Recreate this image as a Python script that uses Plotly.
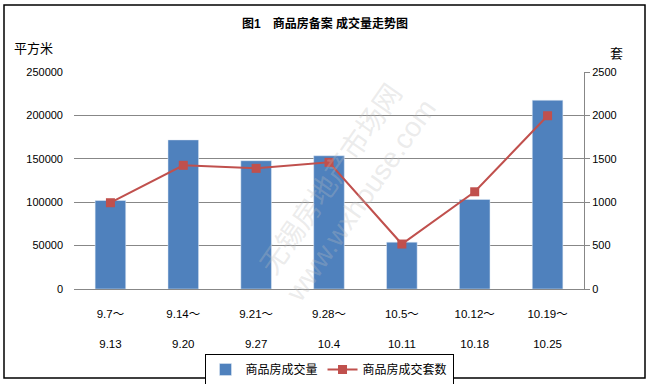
import plotly.graph_objects as go

categories = ["9.7～", "9.14～", "9.21～", "9.28～", "10.5～", "10.12～", "10.19～"]
categories_end = ["9.13", "9.20", "9.27", "10.4", "10.11", "10.18", "10.25"]
area = [102000, 171800, 147800, 153500, 54000, 103200, 217500]
units = [994, 1425, 1390, 1459, 518, 1120, 1996]

ticktext = [f"{a}<br> <br>{b}" for a, b in zip(categories, categories_end)]
xs = list(range(len(categories)))

FONT = "Liberation Sans, Noto Sans CJK SC, sans-serif"

L, R, T, B = 74, 66, 72, 95
PW, PH = 650 - L - R, 384 - T - B


def px(x):
    return (x - L) / PW


def py(y):
    return (384 - B - y) / PH


fig = go.Figure()
fig.add_trace(go.Bar(x=xs, y=area, name="商品房成交量", marker_color="#4F81BD",
                     width=0.42, yaxis="y"))
fig.add_trace(go.Scatter(x=xs, y=units, name="商品房成交套数", mode="lines+markers",
                         line=dict(color="#C0504D", width=2),
                         marker=dict(symbol="square", size=9, color="#C0504D"),
                         yaxis="y2"))

fig.update_layout(
    width=650, height=384,
    margin=dict(l=L, r=R, t=T, b=B, autoexpand=False),
    paper_bgcolor="white", plot_bgcolor="white",
    font=dict(family=FONT, size=11, color="black"),
    showlegend=True,
    legend=dict(orientation="h", x=0.5, xanchor="center", y=py(354), yanchor="top",
                bordercolor="black", borderwidth=1, font=dict(size=12),
                tracegroupgap=0),
    xaxis=dict(tickmode="array", tickvals=xs, ticktext=ticktext, range=[-0.5, 6.5],
               showgrid=False, showline=True, linecolor="#878787", linewidth=1,
               ticks="", tickfont=dict(size=11.5), zeroline=False, automargin=False,
               ticklabelstandoff=14),
    yaxis=dict(range=[0, 250000], dtick=50000, showgrid=True, gridcolor="#878787",
               gridwidth=1, showline=False, ticks="", zeroline=False,
               tickformat="d", tickfont=dict(size=11), ticklabelstandoff=10,
               automargin=False),
    yaxis2=dict(range=[0, 2500], dtick=500, overlaying="y", side="right",
                showgrid=False, showline=True, linecolor="#878787", linewidth=1,
                ticks="outside", ticklen=5, tickcolor="#878787", zeroline=False,
                tickformat="d", tickfont=dict(size=11), automargin=False),
    title=dict(text="<b>图1　商品房备案 成交量走势图</b>", x=0.5, xanchor="center",
               y=1 - 24 / 384, yanchor="middle", font=dict(size=12, family=FONT)),
)

fig.add_annotation(text="平方米", xref="paper", yref="paper", x=px(12), y=py(48),
                   xanchor="left", yanchor="middle", showarrow=False,
                   font=dict(size=13))
fig.add_annotation(text="套", xref="paper", yref="paper", x=px(616), y=py(54),
                   xanchor="center", yanchor="middle", showarrow=False,
                   font=dict(size=13))
fig.add_annotation(text="无锡房地产市场网<br>www.wxhouse.com", xref="paper", yref="paper",
                   x=px(345), y=py(190), showarrow=False, textangle=-55,
                   font=dict(size=28, color="rgba(190,190,190,0.3)"))

# outer frame
fig.add_shape(type="rect", xref="paper", yref="paper",
              x0=px(4), x1=px(645), y0=py(378), y1=py(5),
              line=dict(color="black", width=1.5), fillcolor="rgba(0,0,0,0)")

fig.write_html("out.html", config={"displayModeBar": False},
               post_script="document.body.style.margin='0';document.body.style.overflow='hidden';")
